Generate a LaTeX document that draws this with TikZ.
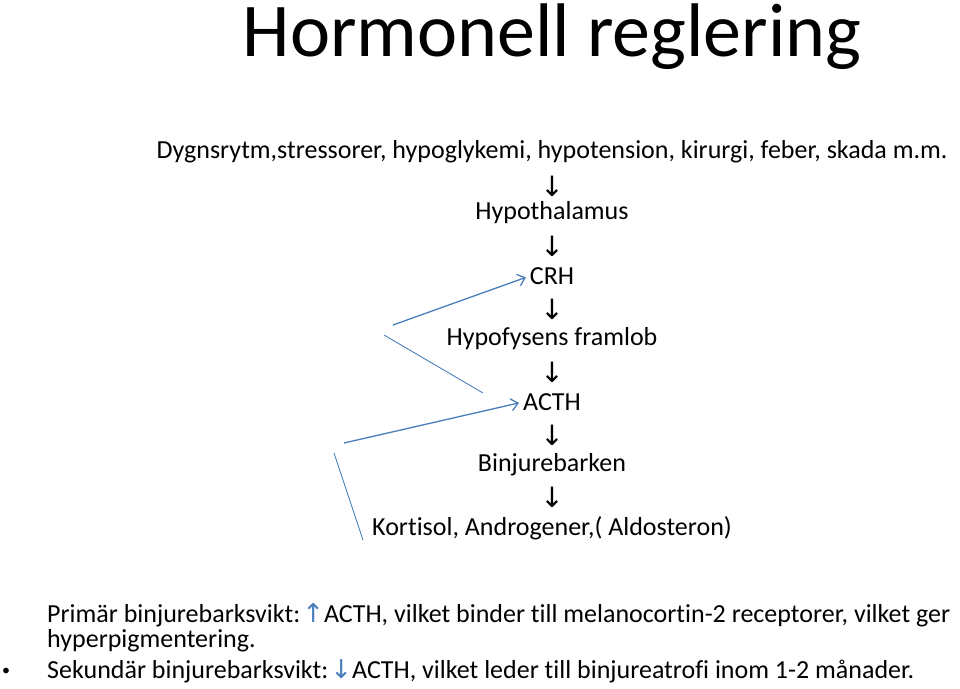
\documentclass[tikz,border=0pt]{standalone}
\usepackage{fontspec}
\setmainfont[Ligatures=CommonOff]{Carlito}
\newfontfamily\symfont{DejaVu Sans}
\usetikzlibrary{arrows.meta}
\definecolor{feedblue}{RGB}{74,126,187}
\tikzset{
  step txt/.style = {inner sep=0pt, font=\fontsize{26}{30}\selectfont},
  down arr/.style = {inner sep=0pt, font=\symfont\fontsize{28}{32}\selectfont},
  body txt/.style = {inner sep=0pt, anchor=base west, font=\fontsize{26}{30}\selectfont},
  feedback/.style = {feedblue, line width=1.3pt},
}
\begin{document}
\begin{tikzpicture}[x=1pt, y=-1pt]
  \useasboundingbox (0,0) rectangle (960,688);
  \node[inner sep=0pt, font=\fontsize{76}{84}\selectfont] (title) at (552,37) {Hormonell reglering};
  \node[step txt] (cause) at (552,152) {Dygnsrytm,stressorer, hypoglykemi, hypotension, kirurgi, feber, skada m.m.};
  \node[down arr] (a1) at (552,186) {↓};
  \node[step txt] (hyp)  at (552,213) {Hypothalamus};
  \node[down arr] (a2) at (552,246) {↓};
  \node[step txt] (crh)  at (552,276) {CRH};
  \node[down arr] (a3) at (552,309) {↓};
  \node[step txt] (fram) at (552,339) {Hypofysens framlob};
  \node[down arr] (a4) at (552,372) {↓};
  \node[step txt] (acth) at (552,402) {ACTH};
  \node[down arr] (a5) at (552,435) {↓};
  \node[step txt] (bin)  at (552,465) {Binjurebarken};
  \node[down arr] (a6) at (552,497) {↓};
  \node[step txt] (kort) at (552,528) {Kortisol, Androgener,( Aldosteron)};
  % feedback
  \coordinate (f1) at (393,325);
  \coordinate (f2) at (384,335);
  \coordinate (f3) at (483,393);
  \coordinate (f4) at (344,443);
  \coordinate (f5) at (334,453);
  \coordinate (f6) at (363,540);
  \draw[feedback, shorten >=4pt, -{Straight Barb[length=7pt, width=12pt]}] (f1) -- (crh.west);
  \draw[feedback, line width=0.9pt] (f2) -- (f3);
  \draw[feedback, shorten >=4pt, -{Straight Barb[length=7pt, width=12pt]}] (f4) -- (acth.west);
  \draw[feedback, line width=0.9pt] (f5) -- (f6);
  % notes
  \node[body txt] (prim) at (47,622) {Primär binjurebarksvikt:\hspace{2pt}\textcolor{feedblue}{\symfont ↑}ACTH, vilket binder till melanocortin-2 receptorer, vilket ger};
  \node[body txt] (hyper) at (47,647) {hyperpigmentering.};
  \node[body txt] (sek) at (47,678) {Sekundär binjurebarksvikt:\hspace{2pt}\textcolor{feedblue}{\symfont ↓}ACTH, vilket leder till binjureatrofi inom 1-2 månader.};
  \node[inner sep=0pt, font=\fontsize{16}{18}\selectfont] (bul) at (6,672) {•};
\end{tikzpicture}
\end{document}
